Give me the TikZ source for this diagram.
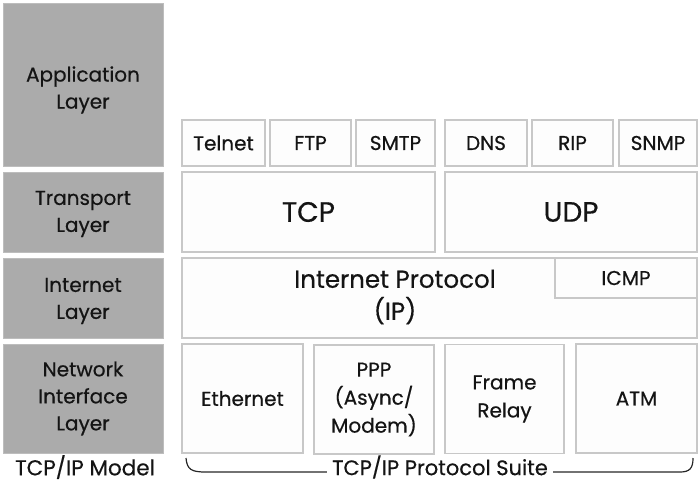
\documentclass[tikz,border=0pt]{standalone}
\usepackage{fontspec}
\setmainfont{Poppins}[FakeBold=0.5]
\definecolor{layergray}{HTML}{ABABAB}
\definecolor{layeredge}{HTML}{BDBDBD}
\definecolor{boxedge}{HTML}{C8C8C8}
\definecolor{boxfill}{HTML}{FDFDFD}
\definecolor{inktext}{HTML}{141414}
\tikzset{
  layerbox/.style={draw=layeredge, fill=layergray, line width=1pt, text=inktext,
    inner sep=0pt, align=center, font=\fontsize{20}{27}\selectfont},
  protobox/.style={draw=boxedge, fill=boxfill, line width=1.3pt, text=inktext,
    inner sep=0pt, align=center, font=\fontsize{20}{28}\selectfont},
  bigtext/.style={font=\fontsize{28}{32}\selectfont},
  plain/.style={text=inktext, inner sep=0pt, align=center, font=\fontsize{20}{27}\selectfont},
  bracestyle/.style={draw=black!85, line width=1.2pt},
}
\begin{document}
\begin{tikzpicture}[x=1pt,y=-1pt]
\useasboundingbox (0,0) rectangle (700,483);
% layer column
\node[layerbox, minimum width=160pt, minimum height=163pt] (app) at (83,84.5) {};
\node[plain] (apptext) at (83,90) {Application\\Layer};
\node[layerbox, minimum width=160pt, minimum height=80pt] (trans) at (83,212) {};
\node[plain] (transtext) at (83,214) {Transport\\Layer};
\node[layerbox, minimum width=160pt, minimum height=80pt] (inet) at (83,298) {};
\node[plain] (inettext) at (83,301) {Internet\\Layer};
\node[layerbox, minimum width=160pt, minimum height=109pt] (net) at (83,398.5) {Network\\Interface\\Layer};
% application protocols
\node[protobox, minimum width=83pt, minimum height=46pt] (telnet) at (223.5,143) {Telnet};
\node[protobox, minimum width=81pt, minimum height=46pt] (ftp) at (310.5,143) {FTP};
\node[protobox, minimum width=79pt, minimum height=46pt] (smtp) at (395.5,143) {SMTP};
\node[protobox, minimum width=82pt, minimum height=46pt] (dns) at (486,143) {DNS};
\node[protobox, minimum width=81pt, minimum height=46pt] (rip) at (572.5,143) {RIP};
\node[protobox, minimum width=78pt, minimum height=46pt] (snmp) at (658,143) {SNMP};
% transport
\node[protobox, bigtext, minimum width=253pt, minimum height=80pt] (tcp) at (308.5,212) {TCP};
\node[protobox, bigtext, minimum width=252pt, minimum height=80pt] (udp) at (571,212) {UDP};
% internet
\node[protobox, minimum width=515pt, minimum height=80pt] (ip) at (439.5,298) {};
\node[plain, font=\fontsize{24.5}{32}\selectfont] (iptext) at (395,297) {Internet Protocol\\(IP)};
\node[protobox, minimum width=142pt, minimum height=40pt] (icmp) at (626,278) {ICMP};
% network interface
\node[protobox, minimum width=121pt, minimum height=109pt] (eth) at (242.5,398.5) {Ethernet};
\node[protobox, minimum width=120pt, minimum height=109pt] (ppp) at (374,399.5) {PPP\\(Async/\\Modem)};
\node[protobox, minimum width=119pt, minimum height=109pt] (frame) at (504.5,399) {Frame\\Relay};
\node[protobox, minimum width=121pt, minimum height=109pt] (atm) at (636.5,398.5) {ATM};
% captions
\node[plain, font=\fontsize{21.5}{24}\selectfont] (model) at (85,467) {TCP/IP Model};
\node[plain, font=\fontsize{21}{24}\selectfont, inner xsep=5pt] (suite) at (440,467) {TCP/IP Protocol Suite};
% brace
\coordinate (bl) at (186,458);
\coordinate (br) at (693,458);
\draw[bracestyle] (bl) .. controls (187,470) and (192,472) .. (206,472) -- (suite.west |- 0,472);
\draw[bracestyle] (suite.east |- 0,472) -- (680,472) .. controls (690,472) and (693,468) .. (br);
\end{tikzpicture}
\end{document}
